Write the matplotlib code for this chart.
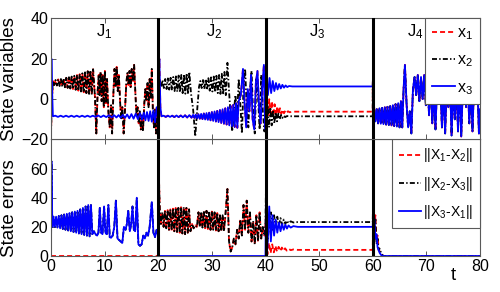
import numpy as np
import matplotlib
matplotlib.use('Agg')
import matplotlib.pyplot as plt

plt.rcParams['font.family'] = ['Liberation Sans', 'DejaVu Sans']
plt.rcParams['mathtext.fontset'] = 'custom'
plt.rcParams['mathtext.rm'] = 'Liberation Sans'
plt.rcParams['mathtext.it'] = 'Liberation Sans'
plt.rcParams['mathtext.default'] = 'regular'
plt.rcParams['lines.scale_dashes'] = False

# ---------------- data ----------------
switch_times = [20, 40, 60]
segment_names = ['J$_1$', 'J$_2$', 'J$_3$', 'J$_4$']
segment_label_t = [10, 30.5, 49.6, 68]

# J1: x1 and x2 (synchronised)
t_x12_J1 = [0, 0.15, 0.35, 0.6, 0.85, 1.1, 1.35, 1.6, 1.85, 2.1, 2.35, 2.6, 2.85, 3.1, 3.35, 3.6,
            3.85, 4.1, 4.35, 4.6, 4.85, 5.1, 5.35, 5.6, 5.85, 6.1, 6.35, 6.6, 6.85, 7.1, 7.35, 7.6,
            7.85, 8.2, 8.45, 8.7, 8.9, 9.05, 9.25, 9.45, 9.65, 9.85, 10.05, 10.25, 10.45, 10.7,
            10.95, 11.2, 11.4, 11.65, 11.85, 12.05, 12.25, 12.45, 12.65, 12.9, 13.1, 13.3, 13.55,
            13.8, 14.05, 14.25, 14.45, 14.65, 14.85, 15.05, 15.3, 15.5, 15.75, 15.95, 16.15, 16.35,
            16.55, 16.75, 16.95, 17.15, 17.4, 17.6, 17.8, 18.0, 18.2, 18.4, 18.6, 18.8, 19.0, 19.2,
            19.4, 19.6, 19.8, 20.0]
v_x12_J1 = [-17, -2, 9, 7, 9.5, 6.8, 9.8, 6.5, 10, 6.2, 10.3, 5.9, 10.6, 5.6, 10.9, 5.3,
            11.2, 5, 11.6, 4.6, 12, 4.2, 12.4, 3.8, 12.8, 3.4, 13.3, 3, 13.8, 2.6, 14.3, 2.2,
            14.8, 1, -17, 4, 12, 2, 13.5, -1, 12, -4, 14, -2, 10, -6,
            -14, -3, -17, 4, 15, 6, 16, 4, 12, -2, -10, -4, -17,
            -5, 8, 13, 7, 14, 6, 15, 9, 17, 2, -8, -4, -12,
            -6, -15, -8, -16, -2, 5, -1, 8, -4, 10, 0, 15, -6, -14,
            -5, -17, -8, -12]

# J1: x3
t_x3_J1 = [0, 0.08, 0.2, 0.35, 0.8, 1.3, 1.8, 2.3, 2.8, 3.3, 3.8, 4.3, 4.8, 5.3, 5.8, 6.3, 6.8,
           7.3, 7.8, 8.3, 8.8, 9.3, 9.8, 10.3, 10.8, 11.3, 11.8, 12.2, 12.6, 13.0, 13.4, 13.8,
           14.2, 14.6, 15.0, 15.4, 15.8, 16.2, 16.6, 17.0, 17.3, 17.6, 17.9, 18.2, 18.5, 18.8,
           19.1, 19.4, 19.7, 19.9, 20.0]
v_x3_J1 = [0, 20, 5, -8.5, -8.2, -8.8, -8.2, -8.8, -8.2, -8.8, -8.2, -8.8, -8.2, -8.8, -8.2, -8.8, -8.2,
           -8.8, -8.2, -8.8, -8.1, -8.9, -8.1, -8.9, -8.0, -9.0, -8.0, -9.1, -7.9, -9.2, -7.8, -9.3,
           -7.6, -9.5, -7.4, -9.7, -7.2, -9.9, -7.0, -10.2, -6.7, -10.5, -6.4, -10.8, -6.0, -11.2,
           -5.6, -11.5, -4, -8, -12]

# J2: x3 (and x1, synchronised with x3)
t_x13_J2 = [20.0, 20.08, 20.2, 20.4, 20.6, 21, 21.4, 21.8, 22.2, 22.6, 23, 23.4, 23.8, 24.2, 24.6,
            25, 25.4, 25.8, 26.2, 26.5, 26.75, 27, 27.25, 27.5, 27.75, 28, 28.25, 28.5, 28.75,
            29, 29.25, 29.5, 29.75, 30, 30.25, 30.5, 30.75, 31, 31.25, 31.5, 31.75, 32, 32.25,
            32.5, 32.75, 33, 33.25, 33.5, 33.75, 34, 34.25, 34.5, 34.75, 35, 35.4, 35.8, 36.1,
            36.4, 36.7, 37, 37.3, 37.6, 37.9, 38.2, 38.5, 38.8, 39.1, 39.4, 39.7, 39.85, 40.0]
v_x13_J2 = [-12, 8, 20, -4, -8.5, -8.2, -8.8, -8.2, -8.8, -8.2, -8.9, -8.1, -8.9, -8.1, -9,
            -8, -9.1, -7.9, -9.2, -7.8, -9.3, -7.7, -9.5, -7.5, -9.7, -7.3, -9.9, -7.1, -10.1,
            -6.9, -10.3, -6.7, -10.5, -6.4, -10.8, -6.1, -11.1, -5.8, -11.4, -5.4, -11.8, -5, -12.2,
            -4.5, -12.6, -4, -13, -3.4, -13.4, -2.8, -13.8, -2, -14.2, -1, 2, 15, -2,
            -14, 5, -6, 12, -10, -15, 8, 14, -4, -12, 6, 17, -5, -15]

# J2: x2
t_x2_J2 = [20.0, 20.1, 20.3, 20.55, 20.8, 21.05, 21.3, 21.55, 21.8, 22.05, 22.3, 22.55, 22.8, 23.05,
           23.3, 23.55, 23.8, 24.05, 24.3, 24.55, 24.8, 25.05, 25.3, 25.55, 25.8, 26.1, 26.5, 26.9,
           27.3, 27.6, 27.85, 28.1, 28.35, 28.6, 28.85, 29.1, 29.35, 29.6, 29.85, 30.1, 30.35,
           30.6, 30.85, 31.1, 31.35, 31.6, 31.85, 32.1, 32.35, 32.6, 32.9, 33.2, 33.5, 33.8, 34.1,
           34.4, 34.7, 35.0, 35.3, 35.6, 35.9, 36.2, 36.5, 36.8, 37.1, 37.4, 37.7, 38.0, 38.3,
           38.6, 38.9, 39.2, 39.5, 39.8, 40.0]
v_x2_J2 = [-12, 3, 9, 6, 9.5, 5.5, 10, 5, 10.3, 4.7, 10.6, 4.4, 11, 4,
           11.3, 3.7, 11.7, 3.4, 12, 3, 12.4, 2.7, 12.8, 2.4, 13.5, 3, -5, -18.5,
           -4, 6, 9, 5.5, 9.5, 5, 10, 4.6, 10.4, 4.2, 10.8, 3.8, 11.2,
           3.4, 11.6, 3, 12, 2.6, 12.6, 2.2, 13.5, 2, 18, 4, -8, -16, -6,
           2, -10, 10, -2, -17, 6, 15, -4, -14, 4, 14, -8, -17, 10,
           2, -15, 12, -6, -16, -8]

# J3
t_x1_J3 = [40.0, 40.2, 40.45, 40.7, 40.95, 41.2, 41.45, 41.7, 41.95, 42.2, 42.45, 42.7, 42.95,
           43.2, 43.45, 43.7, 43.95, 44.2, 44.5, 45, 60]
v_x1_J3 = [-15, 2, -8, 0, -9, -1, -8.5, -2.5, -8, -3.5, -7.5, -4.5, -7.2,
           -5.2, -7, -5.7, -6.7, -6, -6.5, -6.2, -6.2]
t_x2_J3 = [40.0, 40.15, 40.4, 40.65, 40.9, 41.15, 41.4, 41.65, 41.9, 42.15, 42.4, 42.65, 42.9,
           43.15, 43.4, 43.65, 44, 45, 60]
v_x2_J3 = [-8, -16, -3, -14, -4, -13, -5.5, -12, -6.5, -11, -7.2, -10, -7.8,
           -9.3, -8.1, -8.9, -8.4, -8.5, -8.5]
t_x3_J3 = [40.0, 40.2, 40.45, 40.75, 41.05, 41.35, 41.65, 41.95, 42.25, 42.55, 42.85, 43.15,
           43.45, 43.75, 44.05, 44.4, 45, 60]
v_x3_J3 = [-15, 8, 2, 10.5, 3, 9, 4, 8, 4.8, 7.5, 5.3, 7.1,
           5.7, 6.8, 6, 6.5, 6.3, 6.3]

# J4: all three synchronised
t_all_J4 = [60.0, 60.08, 60.25, 60.5, 60.75, 61, 61.25, 61.5, 61.75, 62, 62.25, 62.5, 62.75, 63,
            63.25, 63.5, 63.75, 64, 64.25, 64.5, 64.75, 65, 65.25, 65.5, 65.75, 66, 66.3, 66.6,
            66.9, 67.2, 67.5, 67.8, 68.1, 68.4, 68.7, 69, 69.3, 69.6, 69.9, 70.2, 70.5, 70.8,
            71.1, 71.4, 71.7, 72, 72.3, 72.6, 72.9, 73.2, 73.5, 73.8, 74.1, 74.4, 74.7, 75,
            75.3, 75.6, 75.9, 76.2, 76.5, 76.8, 77.1, 77.4, 77.7, 78, 78.3, 78.6, 78.9, 79.2,
            79.5, 79.8, 80]
v_all_J4 = [6.3, 15.5, -4, -11, -5, -12, -4.5, -12.2, -4.3, -12.4, -4, -12.6, -3.8, -12.8,
            -3.5, -13, -3, -13.3, -2.5, -13.6, -2, -14, -1, -14, 5, 17, -2, -14,
            -6, -17, 5, 11, 2, 12, -1, 11, 0, 12, -3, 10, -8, 12,
            -12, 4, -15, 8, -2, 10, -14, 6, -17, 8, -4, 10, -18, 6,
            -10, 9, -16, 8, -18.5, 6, 12, -4, 10, -12, 6, -16, 8, -2,
            10, -17, -5]

# errors
t_e_J1 = [0, 0.08, 0.25, 0.45, 0.7, 0.95, 1.2, 1.45, 1.7, 1.95, 2.2, 2.45, 2.7, 2.95, 3.2, 3.45,
          3.7, 3.95, 4.2, 4.45, 4.7, 4.95, 5.2, 5.45, 5.7, 5.95, 6.2, 6.45, 6.7, 6.95, 7.2, 7.45,
          7.7, 8.0, 8.3, 8.6, 8.85, 9.1, 9.35, 9.6, 9.9, 10.15, 10.4, 10.7, 10.95, 11.2, 11.5,
          11.8, 12.1, 12.4, 12.7, 13.0, 13.3, 13.6, 13.9, 14.15, 14.4, 14.7, 14.95, 15.2, 15.45,
          15.7, 16.0, 16.3, 16.6, 16.9, 17.2, 17.5, 17.8, 18.1, 18.4, 18.8, 19.1, 19.4, 19.7, 20.0]
v_e31_J1 = [0, 65, 20, 27, 20, 27, 19.5, 27.5, 19, 28, 18.5, 28.5, 18, 29, 17.5, 29.5,
            17, 30, 16.5, 30.5, 16, 31, 15.5, 32, 15, 33, 14.5, 34, 14, 35, 13.5, 35,
            15, 17, 15, 14, 16, 33, 16, 15, 34, 16, 15, 35, 13, 12.5, 14,
            20, 38, 12, 11, 10, 9, 20, 18, 22, 31, 17, 22, 34, 18,
            17, 40, 8, 7, 8, 14, 12, 16, 14, 20, 37, 16, 13, 18, 14]
t_e12_J1 = [0, 20]
v_e12_J1 = [0, 0]

t_e_J2 = [20.0, 20.1, 20.3, 20.5, 20.75, 21, 21.25, 21.5, 21.75, 22, 22.25, 22.5, 22.75, 23,
          23.25, 23.5, 23.75, 24, 24.25, 24.5, 24.75, 25, 25.25, 25.5, 25.75, 26, 26.3, 26.6,
          26.9, 27.2, 27.5, 27.75, 28, 28.25, 28.5, 28.75, 29, 29.25, 29.5, 29.75, 30, 30.25,
          30.5, 30.75, 31, 31.25, 31.5, 31.75, 32, 32.25, 32.5, 32.9, 33.2, 33.5, 33.8, 34.1,
          34.4, 34.7, 35, 35.3, 35.6, 35.9, 36.2, 36.5, 36.8, 37.1, 37.4, 37.7, 38, 38.3, 38.6,
          38.9, 39.2, 39.5, 39.8, 40]
v_e12_J2 = [14, 58, 30, 22, 30, 20, 31, 19, 31.5, 18, 32, 17.5, 32.5, 17,
            33, 16.5, 33, 16, 33.5, 15.5, 33.5, 15, 33, 16, 32, 17, 22, 19,
            21, 20, 30, 20, 30.5, 19.5, 31, 19, 31, 18.5, 31, 18, 30.5, 18,
            30, 17.5, 29.5, 17, 29, 17, 28, 17, 27, 46, 10, 3, 6, 12,
            8, 18, 12, 25, 14, 35, 18, 38, 16, 30, 10, 24, 8, 28, 10,
            30, 12, 20, 14, 22]
t_e31_J2 = [20, 40]
v_e31_J2 = [0, 0]

t_e12_J3 = [40.0, 40.1, 40.35, 40.65, 40.95, 41.25, 41.55, 41.85, 42.15, 42.45, 42.75, 43.05,
            43.35, 43.65, 43.95, 44.3, 44.7, 45.2, 46, 60]
v_e12_J3 = [22, 30, 1, 9, 2, 8, 2.5, 7, 3, 6.3, 3.3, 5.8,
            3.5, 5.3, 3.7, 5, 4, 4.5, 4.2, 4.2]
t_e_J3 = [40.0, 40.1, 40.35, 40.7, 41.0, 41.3, 41.6, 41.9, 42.2, 42.5, 42.8, 43.1, 43.4, 43.7,
          44, 44.3, 44.7, 45.2, 46, 60]
v_e23_J3 = [22, 51, 10, 20, 30, 18, 28, 20, 27, 21, 26, 21.5, 25, 22,
            24.3, 22.5, 23.8, 23, 23.3, 23.3]
v_e31_J3 = [0, 46, 5, 34, 10, 28, 14, 25, 16, 23, 17, 22, 18, 21.5,
            18.8, 21, 19.5, 20.5, 20, 20]

t_e_J4 = [60, 60.1, 60.3, 60.5, 60.7, 60.9, 61.1, 61.3, 61.6, 62, 80]
v_e12_J4 = [4.2, 50, 20, 28, 10, 14, 5, 3, 1, 0, 0]
v_e23_J4 = [23.3, 50, 15, 25, 8, 12, 4, 5, 1.5, 0, 0]
v_e31_J4 = [20, 39, 25, 12, 15, 6, 4, 2, 0.5, 0, 0]

# ---------------- assemble series ----------------
x1_t = t_x12_J1 + t_x13_J2 + t_x1_J3 + t_all_J4
x1_v = v_x12_J1 + v_x13_J2 + v_x1_J3 + v_all_J4
x2_t = t_x12_J1 + t_x2_J2 + t_x2_J3 + t_all_J4
x2_v = v_x12_J1 + v_x2_J2 + v_x2_J3 + v_all_J4
x3_t = t_x3_J1 + t_x13_J2 + t_x3_J3 + t_all_J4
x3_v = v_x3_J1 + v_x13_J2 + v_x3_J3 + v_all_J4

e12_t = t_e12_J1 + t_e_J2 + t_e12_J3 + t_e_J4
e12_v = v_e12_J1 + v_e12_J2 + v_e12_J3 + v_e12_J4
e23_t = t_e_J1 + t_e_J2 + t_e_J3 + t_e_J4
e23_v = v_e31_J1 + v_e12_J2 + v_e23_J3 + v_e23_J4
e31_t = t_e_J1 + t_e31_J2 + t_e_J3 + t_e_J4
e31_v = v_e31_J1 + v_e31_J2 + v_e31_J3 + v_e31_J4

# ---------------- figure ----------------
RED, BLK, BLU = '#ff0000', '#000000', '#0000ff'
red_dash = (0, (3.6, 2.2))
blk_dashdot = (0, (3.6, 1.6, 1.0, 1.6))
LW = 1.3
TICK_FS = 11.5

fig = plt.figure(figsize=(5, 2.92), dpi=100)
ax2 = fig.add_axes([0.102, 0.1233, 0.858, 0.399])
ax1 = fig.add_axes([0.102, 0.5223, 0.858, 0.4144])

l1, = ax1.plot(x1_t, x1_v, color=RED, lw=LW, linestyle=red_dash, label='x$_1$')
l2, = ax1.plot(x2_t, x2_v, color=BLK, lw=LW, linestyle=blk_dashdot, label='x$_2$')
l3, = ax1.plot(x3_t, x3_v, color=BLU, lw=LW, linestyle='-', label='x$_3$')

m1, = ax2.plot(e12_t, e12_v, color=RED, lw=LW, linestyle=red_dash, label='||X$_1$-X$_2$||')
m2, = ax2.plot(e23_t, e23_v, color=BLK, lw=LW, linestyle=blk_dashdot, label='||X$_2$-X$_3$||')
m3, = ax2.plot(e31_t, e31_v, color=BLU, lw=LW, linestyle='-', label='||X$_3$-X$_1$||')

for ax in (ax1, ax2):
    for s in switch_times:
        ax.axvline(s, color='k', lw=2.2, zorder=5)
    ax.set_xlim(0, 80)
    ax.set_xticks(np.arange(0, 81, 10))
    ax.tick_params(direction='in', top=True, right=True, length=3.5, width=0.7,
                   labelsize=TICK_FS, pad=2, colors='0.35', labelcolor='k')
    for sp in ax.spines.values():
        sp.set_color('0.35')
        sp.set_linewidth(0.8)

ax1.set_ylim(-20, 40)
ax1.set_yticks([-20, 0, 20, 40])
ax1.tick_params(labelbottom=False)
ax2.set_ylim(0, 80)
ax2.set_yticks([0, 20, 40, 60])

for name, tx in zip(segment_names, segment_label_t):
    ax1.text(tx, 31, name, ha='center', va='baseline', fontsize=12, zorder=3)

ax1.set_ylabel('State variables', fontsize=13.5)
ax1.yaxis.set_label_coords(-0.077, 0.50)
ax2.set_ylabel('State errors', fontsize=13.5)
ax2.yaxis.set_label_coords(-0.077, 0.41)
ax2.text(0.937, -0.165, 't', transform=ax2.transAxes, fontsize=13.5, ha='center', va='center')

leg1 = ax1.legend(handles=[l1, l2, l3], loc='upper right', bbox_to_anchor=(1, 1),
                  borderaxespad=0, fontsize=11.5, handlelength=1.45, handletextpad=0.1,
                  labelspacing=0.65, borderpad=0.45, fancybox=False, framealpha=1,
                  edgecolor='0.35')
leg1.get_frame().set_linewidth(0.8)
leg1.set_zorder(10)
leg2 = ax2.legend(handles=[m1, m2, m3], loc='upper right', bbox_to_anchor=(1, 1),
                  borderaxespad=0, fontsize=10, handlelength=1.65, handletextpad=0.1,
                  labelspacing=0.75, borderpad=0.5, fancybox=False, framealpha=1,
                  edgecolor='0.35')
leg2.get_frame().set_linewidth(0.8)
leg2.set_zorder(10)

fig.savefig('out.png', dpi=100)
